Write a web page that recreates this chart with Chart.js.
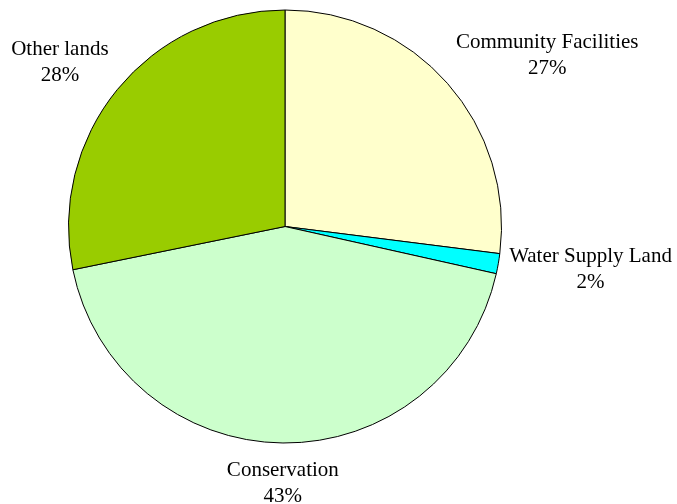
<!DOCTYPE html>
<html>
<head>
<meta charset="utf-8">
<script src="https://cdn.jsdelivr.net/npm/chart.js@4/dist/chart.umd.min.js"></script>
<style>
  html, body { margin: 0; padding: 0; background: #fff; }
  canvas { display: block; }
</style>
</head>
<body>
<canvas id="chart" width="677" height="504"></canvas>
<script>
 // Land use shares
 const categories = ['Community Facilities', 'Water Supply Land', 'Conservation', 'Other lands'];
 const shares = [27.0, 1.5, 43.3, 28.2];
 const sliceColors = ['#FFFFCC', '#00FFFF', '#CCFFCC', '#99CC00'];

 // Draws "name / pct%" outside each slice, like the spreadsheet's outside-end labels
 const outsideLabels = {
     id: 'outsideLabels',
     afterDatasetsDraw(chart) {
         const ctx = chart.ctx;
         const meta = chart.getDatasetMeta(0);
         const total = shares.reduce((a, b) => a + b, 0);
         const lineH = 26;
         ctx.save();
         ctx.font = '21px "Liberation Serif", "Times New Roman", serif';
         ctx.fillStyle = '#000';
         meta.data.forEach((arc, i) => {
             const mid = (arc.startAngle + arc.endAngle) / 2;
             const dx = Math.cos(mid), dy = Math.sin(mid);
             const r = arc.outerRadius + 10;
             const x = arc.x + dx * r;
             const y = arc.y + dy * r;
             const lines = [categories[i], Math.round(shares[i] / total * 100) + '%'];
             let left;
             const w = Math.max(...lines.map(t => ctx.measureText(t).width));
             if (dx > 0.3) left = x + 1;
             else if (dx < -0.3) left = x - w - 1;
             else left = x - w / 2;
             let top;
             const h = lineH * lines.length;
             if (dy < -0.3) top = y - h + 5;
             else if (dy > 0.3) top = y + 4;
             else top = y - h / 2 + 4;
             ctx.textAlign = 'center';
             ctx.textBaseline = 'middle';
             lines.forEach((t, k) => ctx.fillText(t, left + w / 2, top + lineH * (k + 0.5)));
         });
         ctx.restore();
     }
 };

 const ctx = document.getElementById('chart').getContext('2d');
 const myChart = new Chart(ctx, {
     type: 'pie',
     data: {
         labels: categories,
         datasets: [{
             data: shares,
             backgroundColor: sliceColors,
             borderColor: '#000',
             borderWidth: 1
         }]
     },
     options: {
         responsive: false,
         animation: false,
         layout: { padding: { left: 68, right: 175, top: 9, bottom: 60 } },
         plugins: {
             legend: { display: false },
             tooltip: { enabled: false }
         }
     },
     plugins: [outsideLabels]
 });
</script>
</body>
</html>
